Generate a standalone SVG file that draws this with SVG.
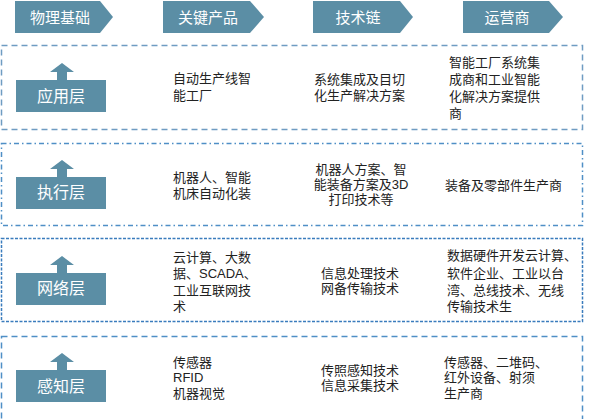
<svg xmlns="http://www.w3.org/2000/svg" width="600" height="419" viewBox="0 0 600 419">
<defs>
<style>
.chev{fill:#5b8ea5}
.hd{font-family:"Liberation Sans","Noto Sans CJK SC",sans-serif;font-size:15px;fill:#fff;text-anchor:middle}
.lbl{font-family:"Liberation Sans","Noto Sans CJK SC",sans-serif;font-size:16px;fill:#fff;text-anchor:middle}
.t{font-family:"Liberation Sans","Noto Sans CJK SC",sans-serif;font-size:13px;fill:#222}
.tc{font-family:"Liberation Sans","Noto Sans CJK SC",sans-serif;font-size:13px;fill:#222;text-anchor:middle}
.box{fill:none;stroke-width:1.5}
</style>
<symbol id="layer" viewBox="0 0 90 50" width="90" height="50" overflow="visible">
<path d="M0 17 H41 V9 H34 L46 0 L58 9 H51 V17 H90 V49 H0 Z" fill="#5b8ea5"/>
</symbol>
</defs>
<rect width="600" height="419" fill="#fff"/>
<g id="headers">
<g id="h1"><polygon class="chev" points="15,1 100,1 113,17 100,33 15,33"/><text class="hd" x="60" y="23">物理基础</text></g>
<g id="h2"><polygon class="chev" points="163,1 250,1 264,17 250,33 163,33"/><text class="hd" x="208" y="23">关键产品</text></g>
<g id="h3"><polygon class="chev" points="313,1 400,1 413,17 400,33 313,33"/><text class="hd" x="358" y="23">技术链</text></g>
<g id="h4"><polygon class="chev" points="463,1 549,1 563,17 549,33 463,33"/><text class="hd" x="507" y="23">运营商</text></g>
</g>
<g id="boxes">
<rect class="box" x="1.5" y="45.5" width="581" height="84" stroke="#6f9cc2" stroke-dasharray="6,4"/>
<rect class="box" x="1.5" y="143.5" width="581" height="82" stroke="#4f8fc6" stroke-dasharray="5,3,1.5,3"/>
<rect class="box" x="1.5" y="238.5" width="581" height="83" stroke="#3a7cbd" stroke-dasharray="3,1.5"/>
<rect class="box" x="1.5" y="336.5" width="581" height="90" stroke="#4f8fc6" stroke-dasharray="6,4"/>
</g>
<g id="layer1">
<use href="#layer" x="16" y="63"/>
<text class="lbl" x="61" y="102">应用层</text>
<text class="t" x="173" y="83">自动生产线智</text>
<text class="t" x="173" y="100">能工厂</text>
<text class="t" x="314" y="84">系统集成及目切</text>
<text class="t" x="314" y="100">化生产解决方案</text>
<text class="t" x="449" y="67">智能工厂系统集</text>
<text class="t" x="449" y="84">成商和工业智能</text>
<text class="t" x="449" y="101">化解决方案提供</text>
<text class="t" x="449" y="118">商</text>
</g>
<g id="layer2">
<use href="#layer" x="16" y="160"/>
<text class="lbl" x="61" y="198">执行层</text>
<text class="t" x="173" y="182">机器人、智能</text>
<text class="t" x="173" y="198">机床自动化装</text>
<text class="tc" x="361" y="174">机器人方案、智</text>
<text class="tc" x="361" y="189">能装备方案及3D</text>
<text class="tc" x="361" y="204">打印技术等</text>
<text class="t" x="445" y="190">装备及零部件生产商</text>
</g>
<g id="layer3">
<use href="#layer" x="16" y="256"/>
<text class="lbl" x="61" y="294">网络层</text>
<text class="t" x="173" y="262">云计算、大数</text>
<text class="t" x="173" y="278">据、SCADA、</text>
<text class="t" x="173" y="295">工业互联网技</text>
<text class="t" x="173" y="311">术</text>
<text class="t" x="321" y="278">信息处理技术</text>
<text class="t" x="321" y="293">网备传输技术</text>
<text class="t" x="447" y="260">数据硬件开发云计算、</text>
<text class="t" x="447" y="278">软件企业、工业以台</text>
<text class="t" x="447" y="295">湾、总线技术、无线</text>
<text class="t" x="447" y="311">传输技术生</text>
</g>
<g id="layer4">
<use href="#layer" x="16" y="353"/>
<text class="lbl" x="61" y="392">感知层</text>
<text class="t" x="173" y="367">传感器</text>
<text class="t" x="173" y="382">RFID</text>
<text class="t" x="173" y="398">机器视觉</text>
<text class="t" x="321" y="375">传照感知技术</text>
<text class="t" x="321" y="390">信息采集技术</text>
<text class="t" x="444" y="367">传感器、二堆码、</text>
<text class="t" x="444" y="382">红外设备、射须</text>
<text class="t" x="444" y="398">生产商</text>
</g>
<g id="connectors"/>
</svg>
